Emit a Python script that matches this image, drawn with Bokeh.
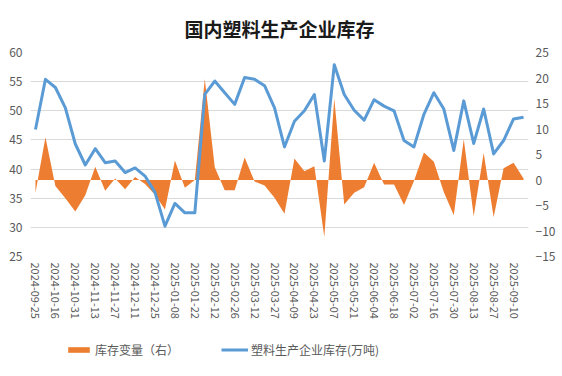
from bokeh.plotting import figure
from bokeh.layouts import column
from bokeh.models import Range1d, LinearAxis, FixedTicker, Legend, LegendItem
from bokeh.embed import file_html
from bokeh.resources import INLINE

dates = [
    "2024-09-25", "2024-10-09", "2024-10-16", "2024-10-23", "2024-10-31", "2024-11-06",
    "2024-11-13", "2024-11-20", "2024-11-27", "2024-12-04", "2024-12-11", "2024-12-18",
    "2024-12-25", "2025-01-02", "2025-01-08", "2025-01-15", "2025-01-22", "2025-02-06",
    "2025-02-12", "2025-02-19", "2025-02-26", "2025-03-05", "2025-03-12", "2025-03-19",
    "2025-03-27", "2025-04-02", "2025-04-09", "2025-04-16", "2025-04-23", "2025-04-30",
    "2025-05-07", "2025-05-14", "2025-05-21", "2025-05-28", "2025-06-04", "2025-06-11",
    "2025-06-18", "2025-06-25", "2025-07-02", "2025-07-09", "2025-07-16", "2025-07-23",
    "2025-07-30", "2025-08-06", "2025-08-13", "2025-08-20", "2025-08-27", "2025-09-03",
    "2025-09-10", "2025-09-17",
]

stock = [
    46.8, 55.4, 54.0, 50.5, 44.3, 40.7, 43.5, 41.1, 41.4, 39.4,
    40.2, 38.8, 36.0, 30.2, 34.1, 32.5, 32.5, 52.8, 55.1, 53.1,
    51.1, 55.7, 55.4, 54.3, 50.5, 43.8, 48.2, 50.0, 52.8, 41.4,
    57.9, 52.8, 50.1, 48.4, 51.9, 50.8, 50.0, 44.9, 43.8, 49.4,
    53.1, 50.3, 43.2, 51.7, 44.4, 50.3, 42.6, 44.9, 48.6, 48.9,
]

change = [
    -2.5, 8.4, -1.2, -3.6, -6.2, -3.0, 2.6, -2.1, 0.3, -1.8,
    0.6, -0.8, -2.9, -5.8, 3.8, -1.5, 0.0, 19.8, 2.5, -2.0,
    -2.0, 4.4, -0.3, -1.1, -3.5, -6.6, 4.2, 1.7, 2.7, -11.2,
    16.0, -4.8, -2.5, -1.4, 3.4, -0.9, -0.9, -4.9, -0.2, 5.4,
    3.6, -2.4, -6.9, 8.0, -7.1, 5.3, -7.3, 2.3, 3.4, 0.3,
]

left_ticks = [25, 30, 35, 40, 45, 50, 55, 60]
right_ticks = [-15, -10, -5, 0, 5, 10, 15, 20, 25]

title_text = "国内塑料生产企业库存"
legend_change = "库存变量（右）"
legend_stock = "塑料生产企业库存(万吨)"

FONT = "Noto Sans CJK SC"
LABEL_COLOR = "#595959"
ORANGE = "#ED7D31"
BLUE = "#5B9BD5"

x = list(range(len(dates)))

# ---------------- main chart ----------------
p = figure(width=562, height=330, output_backend="svg", toolbar_location=None,
           x_range=Range1d(-0.5, len(dates) - 0.5),
           y_range=Range1d(left_ticks[0], left_ticks[-1]),
           min_border_left=30, min_border_right=34, min_border_top=52,
           min_border_bottom=74)
p.extra_y_ranges = {"right": Range1d(right_ticks[0], right_ticks[-1])}

p.title.text = title_text
p.title.align = "center"
p.title.text_font = FONT
p.title.text_font_size = "19px"
p.title.text_font_style = "bold"
p.title.text_color = "#1a1a1a"
p.title.standoff = 22

p.outline_line_color = None
p.background_fill_color = "white"
p.border_fill_color = "white"

p.varea(x=x, y1=[0] * len(x), y2=change, y_range_name="right", fill_color=ORANGE)
p.line(x, stock, line_color=BLUE, line_width=3, line_join="round")

right_axis = LinearAxis(y_range_name="right", ticker=FixedTicker(ticks=right_ticks))
p.add_layout(right_axis, "right")

p.yaxis[0].ticker = FixedTicker(ticks=left_ticks)
p.xaxis.ticker = FixedTicker(ticks=x[::2])
p.xaxis.major_label_overrides = {i: dates[i] for i in x}
p.xaxis.major_label_orientation = "vertical"

for ax in p.axis:
    ax.axis_line_color = None
    ax.major_tick_line_color = None
    ax.minor_tick_line_color = None
    ax.major_tick_out = 0
    ax.major_tick_in = 0
    ax.major_label_text_font = FONT
    ax.major_label_text_color = LABEL_COLOR
    ax.major_label_text_font_size = "12px"
p.xaxis.major_label_text_font_size = "11px"
p.xaxis.major_label_standoff = 6
p.yaxis[0].major_label_standoff = 8
right_axis.major_label_standoff = 7

p.xgrid.grid_line_color = None
p.ygrid.grid_line_color = "#D9D9D9"
p.ygrid.grid_line_width = 1

# ---------------- legend strip ----------------
lg = figure(width=562, height=46, output_backend="svg", toolbar_location=None,
            x_range=Range1d(0, 1), y_range=Range1d(0, 1),
            min_border_left=0, min_border_right=0, min_border_top=0,
            min_border_bottom=0)
lg.axis.visible = False
lg.grid.grid_line_color = None
lg.outline_line_color = None
lg.background_fill_color = "white"
lg.border_fill_color = "white"

# placeholder renderers (outside the visible range) that only supply legend glyphs
la = lg.varea(x=[-3, -2], y1=[-3, -3], y2=[-2, -2], fill_color=ORANGE)
ll = lg.line(x=[-3, -2], y=[-3, -2], line_color=BLUE, line_width=3)

legend = Legend(items=[LegendItem(label=legend_change, renderers=[la]),
                       LegendItem(label=legend_stock, renderers=[ll])],
                orientation="horizontal", location=(35, 18),
                glyph_width=27, glyph_height=7, label_height=14,
                label_standoff=3, spacing=42,
                label_text_font=FONT, label_text_font_size="12px",
                label_text_color=LABEL_COLOR, padding=0, margin=0,
                border_line_color=None, background_fill_alpha=0)
lg.add_layout(legend, "center")

layout = column(p, lg, spacing=0)

open("out.html", "w").write(file_html(layout, INLINE))
